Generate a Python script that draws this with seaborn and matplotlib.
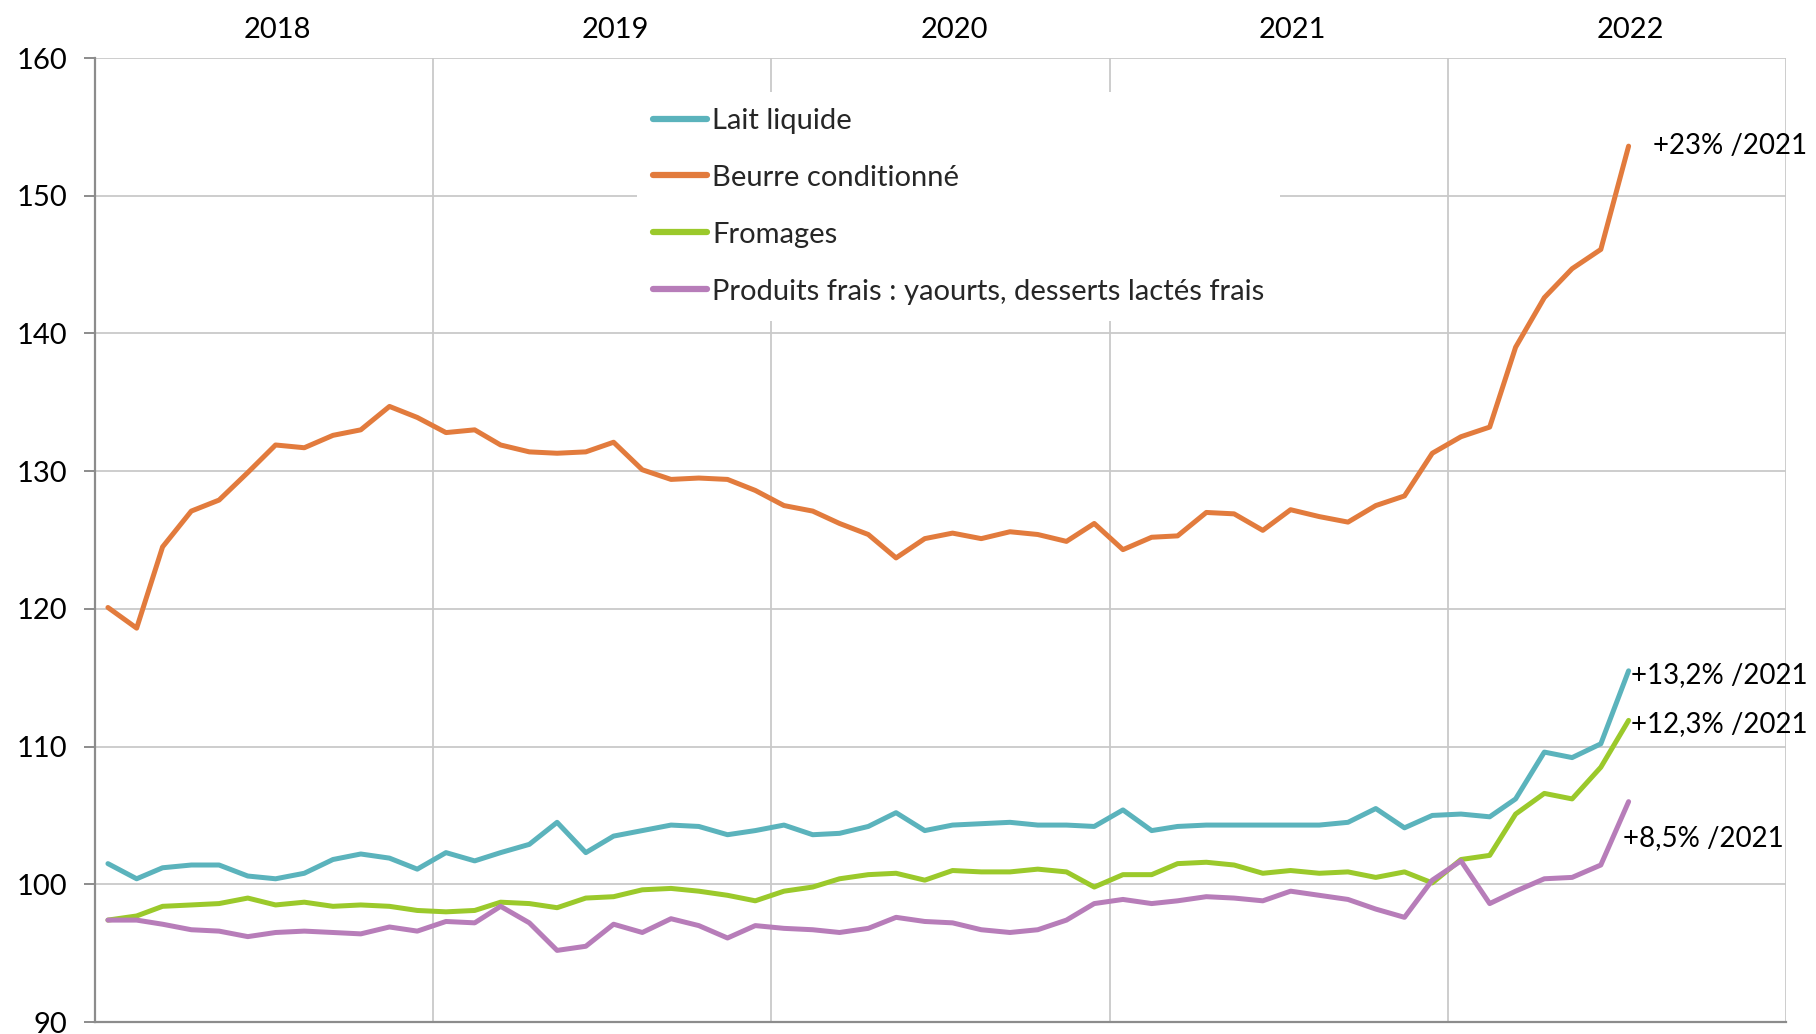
import matplotlib
matplotlib.use("Agg")
import matplotlib.pyplot as plt
import numpy as np
import pandas as pd
import seaborn as sns

# Indices mensuels des prix, janvier 2018 - juillet 2022
start_month = "2018-01-01"
end_month = "2022-07-01"

lait_liquide = [101.5, 100.4, 101.2, 101.4, 101.4, 100.6, 100.4, 100.8, 101.8, 102.2, 101.9, 101.1,
                102.3, 101.7, 102.3, 102.9, 104.5, 102.3, 103.5, 103.9, 104.3, 104.2, 103.6, 103.9,
                104.3, 103.6, 103.7, 104.2, 105.2, 103.9, 104.3, 104.4, 104.5, 104.3, 104.3, 104.2,
                105.4, 103.9, 104.2, 104.3, 104.3, 104.3, 104.3, 104.3, 104.5, 105.5, 104.1, 105.0,
                105.1, 104.9, 106.2, 109.6, 109.2, 110.2, 115.5]
beurre = [120.1, 118.6, 124.5, 127.1, 127.9, 129.9, 131.9, 131.7, 132.6, 133.0, 134.7, 133.9,
          132.8, 133.0, 131.9, 131.4, 131.3, 131.4, 132.1, 130.1, 129.4, 129.5, 129.4, 128.6,
          127.5, 127.1, 126.2, 125.4, 123.7, 125.1, 125.5, 125.1, 125.6, 125.4, 124.9, 126.2,
          124.3, 125.2, 125.3, 127.0, 126.9, 125.7, 127.2, 126.7, 126.3, 127.5, 128.2, 131.3,
          132.5, 133.2, 139.0, 142.6, 144.7, 146.1, 153.6]
fromages = [97.4, 97.7, 98.4, 98.5, 98.6, 99.0, 98.5, 98.7, 98.4, 98.5, 98.4, 98.1,
            98.0, 98.1, 98.7, 98.6, 98.3, 99.0, 99.1, 99.6, 99.7, 99.5, 99.2, 98.8,
            99.5, 99.8, 100.4, 100.7, 100.8, 100.3, 101.0, 100.9, 100.9, 101.1, 100.9, 99.8,
            100.7, 100.7, 101.5, 101.6, 101.4, 100.8, 101.0, 100.8, 100.9, 100.5, 100.9, 100.1,
            101.8, 102.1, 105.1, 106.6, 106.2, 108.5, 111.9]
produits_frais = [97.4, 97.4, 97.1, 96.7, 96.6, 96.2, 96.5, 96.6, 96.5, 96.4, 96.9, 96.6,
                  97.3, 97.2, 98.4, 97.2, 95.2, 95.5, 97.1, 96.5, 97.5, 97.0, 96.1, 97.0,
                  96.8, 96.7, 96.5, 96.8, 97.6, 97.3, 97.2, 96.7, 96.5, 96.7, 97.4, 98.6,
                  98.9, 98.6, 98.8, 99.1, 99.0, 98.8, 99.5, 99.2, 98.9, 98.2, 97.6, 100.3,
                  101.7, 98.6, 99.5, 100.4, 100.5, 101.4, 106.0]

series_names = ["Lait liquide", "Beurre conditionné", "Fromages",
                "Produits frais : yaourts, desserts lactés frais"]
series_values = [lait_liquide, beurre, fromages, produits_frais]
end_labels = ["+13,2% /2021", "+23% /2021", "+12,3% /2021", "+8,5% /2021"]
years = ["2018", "2019", "2020", "2021", "2022"]

colors = ["#5BB3BC", "#E27B3D", "#9BC92B", "#B77DB9"]

# Points placed mid-month
months = pd.date_range(start_month, end_month, freq="MS") + pd.Timedelta(days=14)

frames = []
for name, vals in zip(series_names, series_values):
    frames.append(pd.DataFrame({"mois": months, "indice": vals, "produit": name}))
df = pd.concat(frames, ignore_index=True)

sns.set_theme(style="white")
plt.rcParams["font.family"] = ["Lato", "DejaVu Sans"]

FS = 21

fig = plt.figure(figsize=(18.16, 10.34), dpi=100)
ax = fig.add_axes([0.0523, 0.0116, 0.9312, 0.9323])

sns.lineplot(data=df, x="mois", y="indice", hue="produit", hue_order=series_names,
             palette=colors, linewidth=3.6, ax=ax, legend=True)
for line in ax.get_lines():
    line.set_solid_joinstyle("round")
    line.set_solid_capstyle("round")

# Axes ranges and grid
x0 = pd.Timestamp("2018-01-01")
x1 = pd.Timestamp("2023-01-01")
ax.set_xlim(x0, x1)
ax.set_ylim(90, 160)
ax.set_yticks(np.arange(90, 161, 10))
ax.set_xlabel("")
ax.set_ylabel("")

year_starts = [pd.Timestamp(f"{y}-01-01") for y in years] + [x1]
ax.set_xticks(year_starts)
ax.set_xticklabels([])
ax.grid(True, axis="both", color="#C9C9C9", linewidth=1.3)
ax.set_axisbelow(True)

for side in ["top", "right"]:
    ax.spines[side].set_visible(False)
for side in ["left", "bottom"]:
    ax.spines[side].set_color("#8C8C8C")
    ax.spines[side].set_linewidth(1.6)

ax.tick_params(axis="y", which="major", direction="out", length=8, width=1.4,
               color="#8C8C8C", left=True, pad=12, labelsize=FS, labelcolor="black")
ax.tick_params(axis="x", which="major", direction="out", length=0, bottom=True)
# Bottom ticks every two years
minor_ticks = [pd.Timestamp("2018-01-01"), pd.Timestamp("2020-01-01"), pd.Timestamp("2022-01-01")]
ax.set_xticks(minor_ticks, minor=True)
ax.tick_params(axis="x", which="minor", direction="out", length=7, width=1.4,
               color="#8C8C8C", bottom=True)

# Year labels along the top
year_mid = [pd.Timestamp(f"{y}-07-17") for y in years]
top = ax.secondary_xaxis("top")
top.set_xticks(year_mid)
top.set_xticklabels(years)
top.tick_params(length=0, pad=11, labelsize=FS, labelcolor="black")
for s in top.spines.values():
    s.set_visible(False)

# End-of-series annotations
offsets = [(2, -4), (24, 0), (2, -4), (-6, -36)]
for vals, text, off in zip(series_values, end_labels, offsets):
    ax.annotate(text, xy=(months[-1], vals[-1]), xytext=off, textcoords="offset pixels",
                ha="left", va="center", fontsize=20, color="black", annotation_clip=False)

# Legend
handles, labels = ax.get_legend_handles_labels()
for h in handles:
    h.set_linewidth(4.5)
leg = ax.legend(handles, labels, loc="upper left", bbox_to_anchor=(0.3205, 0.965),
                fontsize=FS, frameon=True, facecolor="white", edgecolor="white",
                framealpha=1.0, handlelength=1.85, handletextpad=0.17,
                labelspacing=1.06, borderpad=0.55, borderaxespad=0)
leg.get_frame().set_linewidth(0)
leg.set_zorder(5)

fig.savefig("out.png", dpi=100)
